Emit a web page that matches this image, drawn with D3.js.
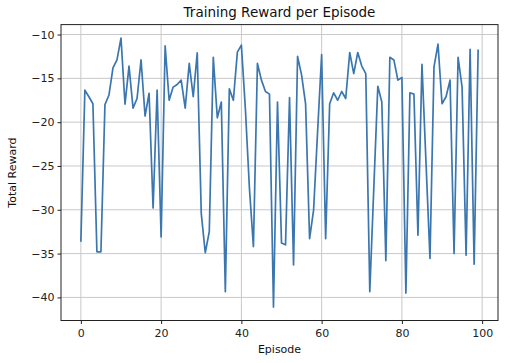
<!DOCTYPE html>
<html><head><meta charset="utf-8">
<script src="https://cdn.jsdelivr.net/npm/d3@7"></script>
<style>body{margin:0;background:#fff;} svg{display:block;}</style>
</head><body>
<script>
const episodes = d3.range(0, 100);
const rewards = [
 -33.65,-16.35,-17.1,-17.9,-34.8,-34.8,-18.0,-16.9,-13.8,-12.9,
 -10.4,-17.95,-13.6,-18.4,-17.3,-12.9,-19.3,-16.7,-29.8,-16.35,
 -33.1,-11.3,-17.5,-16.0,-15.7,-15.2,-18.4,-13.3,-17.1,-12.1,
 -30.4,-34.9,-32.5,-12.6,-19.5,-17.7,-39.35,-16.2,-17.5,-12.0,
 -11.2,-18.5,-27.5,-34.2,-13.3,-15.2,-16.5,-16.8,-41.1,-17.7,
 -33.8,-34.0,-17.2,-36.3,-12.5,-14.6,-17.9,-33.3,-30.0,-21.0,
 -12.3,-33.3,-17.9,-16.65,-17.5,-16.5,-17.3,-12.05,-14.45,-12.05,
 -13.6,-14.45,-39.35,-27.5,-15.9,-17.7,-35.8,-12.6,-12.9,-15.2,
 -14.9,-39.5,-16.65,-16.8,-32.9,-13.4,-24.5,-35.55,-13.7,-11.1,
 -17.9,-17.1,-15.2,-35.0,-12.6,-16.0,-35.2,-11.7,-36.2,-11.7
];
const xTicks = [0, 20, 40, 60, 80, 100];
const yTicks = [-40, -35, -30, -25, -20, -15, -10];

const W = 519, H = 363;
const m = {left: 61, right: 21, top: 24.6, bottom: 42.5};
const iw = W - m.left - m.right, ih = H - m.top - m.bottom;

const svg = d3.select("body").append("svg").attr("width", W).attr("height", H)
  .style("font-family", "DejaVu Sans, sans-serif");
const g = svg.append("g").attr("transform", `translate(${m.left},${m.top})`);

const xmin = d3.min(episodes), xmax = d3.max(episodes);
const ymin = d3.min(rewards), ymax = d3.max(rewards);
const xm = (xmax - xmin) * 0.05, ym = (ymax - ymin) * 0.05;
const x = d3.scaleLinear().domain([xmin - xm, xmax + xm]).range([0, iw]);
const y = d3.scaleLinear().domain([ymin - ym, ymax + ym]).range([ih, 0]);

// grid
g.append("g").selectAll("line").data(xTicks).join("line")
  .attr("x1", d => x(d)).attr("x2", d => x(d)).attr("y1", 0).attr("y2", ih)
  .attr("stroke", "#c8c8c8").attr("stroke-width", 1);
g.append("g").selectAll("line").data(yTicks).join("line")
  .attr("y1", d => y(d)).attr("y2", d => y(d)).attr("x1", 0).attr("x2", iw)
  .attr("stroke", "#c8c8c8").attr("stroke-width", 1);

// line
const line = d3.line().x((d, i) => x(episodes[i])).y(d => y(d));
g.append("path").datum(rewards).attr("d", line)
  .attr("fill", "none").attr("stroke", "#3b76af").attr("stroke-width", 1.7)
  .attr("stroke-linejoin", "round");

// axes
const xa = g.append("g").attr("transform", `translate(0,${ih})`)
  .call(d3.axisBottom(x).tickValues(xTicks).tickSize(3.5).tickPadding(3).tickFormat(d3.format("d")));
const ya = g.append("g")
  .call(d3.axisLeft(y).tickValues(yTicks).tickSize(3.5).tickPadding(3).tickFormat(d3.format("d")));
[xa, ya].forEach(a => {
  a.select(".domain").remove();
  a.selectAll("text").attr("font-size", 11).attr("fill", "#222").attr("font-family", "DejaVu Sans, sans-serif");
  a.selectAll("line").attr("stroke", "#222");
});
xa.selectAll("text").attr("dy", "0.9em");

// frame
g.append("rect").attr("width", iw).attr("height", ih)
  .attr("fill", "none").attr("stroke", "#222").attr("stroke-width", 1);

// texts
svg.append("text").attr("x", m.left + iw / 2).attr("y", 17).attr("text-anchor", "middle")
  .attr("font-size", 13.5).attr("fill", "#111").text("Training Reward per Episode");
svg.append("text").attr("x", m.left + iw / 2).attr("y", 353).attr("text-anchor", "middle")
  .attr("font-size", 11).attr("fill", "#111").text("Episode");
svg.append("text").attr("transform", `translate(16,${m.top + ih / 2}) rotate(-90)`)
  .attr("text-anchor", "middle").attr("font-size", 11).attr("fill", "#111").text("Total Reward");
</script>
</body></html>
